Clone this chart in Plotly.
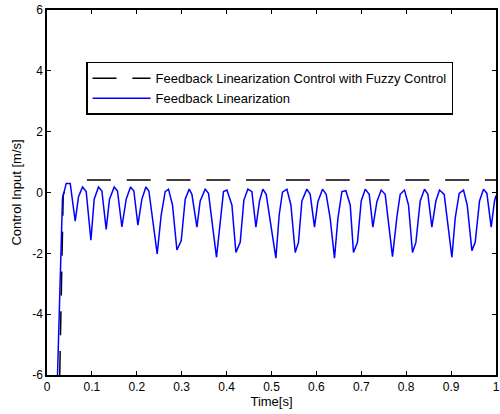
import plotly.graph_objects as go

# Feedback Linearization (blue) - vertices
t_fl = [0.0234, 0.0345, 0.0428, 0.0517, 0.0628, 0.0702, 0.0791, 0.0873, 0.0978, 0.1051,
        0.1147, 0.1223, 0.1318, 0.1392, 0.1497, 0.1570, 0.1668, 0.1764, 0.1860, 0.1935,
        0.2024, 0.2114, 0.2203, 0.2269, 0.2454, 0.2543, 0.2632, 0.2706, 0.2795, 0.2893,
        0.2989, 0.3078, 0.3167, 0.3227, 0.3339, 0.3412, 0.3523, 0.3597, 0.3775, 0.3931,
        0.4007, 0.4118, 0.4207, 0.4303, 0.4385, 0.4474, 0.4563, 0.4653, 0.4733, 0.4808,
        0.4882, 0.5098, 0.5171, 0.5245, 0.5343, 0.5432, 0.5528, 0.5601, 0.5677, 0.5788,
        0.5862, 0.5958, 0.6033, 0.6136, 0.6218, 0.6307, 0.6403, 0.6479, 0.6568, 0.6657,
        0.6753, 0.6826, 0.6915, 0.6998, 0.7087, 0.7176, 0.7258, 0.7347, 0.7443, 0.7532,
        0.7695, 0.7793, 0.7866, 0.7962, 0.8051, 0.8140, 0.8216, 0.8312, 0.8408, 0.8483,
        0.8572, 0.8661, 0.8742, 0.8846, 0.9018, 0.9091, 0.9180, 0.9276, 0.9359, 0.9463,
        0.9537, 0.9633, 0.9722, 0.9797, 0.9893, 0.9967, 1.0000]
u_fl = [-6.00, -0.19, 0.30, 0.30, -0.94, -0.14, 0.18, 0.03, -1.57, -0.22,
        0.18, 0.05, -1.21, -0.22, 0.18, 0.05, -1.13, -0.22, 0.18, 0.05,
        -1.07, -0.21, 0.18, 0.05, -2.02, -0.74, 0.03, 0.11, -0.41, -1.89,
        -1.59, -0.22, 0.11, -0.06, -1.14, -0.28, 0.11, -0.03, -2.13, 0.03,
        0.08, -0.41, -1.97, -1.64, -0.25, 0.11, 0.03, -1.14, -0.28, 0.11,
        -0.06, -2.16, -0.74, 0.01, 0.11, -0.41, -1.97, -1.64, -0.28, 0.11,
        -0.06, -1.14, -0.30, 0.11, -0.06, -0.85, -2.16, -0.85, 0.03, 0.06,
        -0.41, -1.97, -1.64, -0.28, 0.11, -0.06, -1.14, -0.30, 0.08, -0.06,
        -2.11, -0.80, -0.06, 0.08, -0.41, -1.97, -1.64, -0.28, 0.11, -0.06,
        -1.14, -0.28, 0.08, -0.06, -2.13, -0.85, -0.03, 0.08, -0.41, -1.91,
        -1.64, -0.28, 0.11, -0.03, -1.14, -0.28, -0.10]

# Feedback Linearization Control with Fuzzy Control (black dashed)
# initial rise, then the steady level
t_fz_rise = [0.0283, 0.0361, 0.0450, 0.0539]
u_fz_rise = [-6.00, -0.08, 0.31, 0.39]
t_fz_flat = [0.0889, 1.0000]
u_fz_flat = [0.41, 0.41]

x_ticks = [0, 0.1, 0.2, 0.3, 0.4, 0.5, 0.6, 0.7, 0.8, 0.9, 1]
y_ticks = [-6, -4, -2, 0, 2, 4, 6]

FONT = "Liberation Sans, Arial, sans-serif"
DASH = "24px,15.8px"

fig = go.Figure()
fig.add_trace(go.Scatter(
    x=t_fz_rise, y=u_fz_rise, mode="lines",
    name="Feedback Linearization Control with Fuzzy Control",
    legendgroup="fz",
    line=dict(color="black", width=1.5, dash=DASH),
))
fig.add_trace(go.Scatter(
    x=t_fz_flat, y=u_fz_flat, mode="lines",
    name="Feedback Linearization Control with Fuzzy Control",
    legendgroup="fz", showlegend=False,
    line=dict(color="black", width=1.5, dash=DASH),
))
fig.add_trace(go.Scatter(
    x=t_fl, y=u_fl, mode="lines",
    name="Feedback Linearization",
    line=dict(color="#0000ff", width=1.5),
))

axis_common = dict(
    showgrid=False, zeroline=False, showline=True, linecolor="black", linewidth=1.5,
    mirror="ticks", ticks="inside", ticklen=4, tickcolor="black", tickwidth=1,
    automargin=False,
    tickfont=dict(family=FONT, size=12, color="black"),
)

fig.update_layout(
    width=500, height=414,
    margin=dict(l=47, r=4, t=10, b=39),
    paper_bgcolor="white", plot_bgcolor="white",
    font=dict(family=FONT, size=12, color="black"),
    xaxis=dict(range=[0, 1], tickvals=x_ticks, ticktext=[str(v) for v in x_ticks],
               title=dict(text="Time[s]", standoff=3, font=dict(size=13)), **axis_common),
    yaxis=dict(range=[-6, 6], tickvals=y_ticks, ticktext=[str(v) for v in y_ticks],
               title=dict(text="Control Input [m/s]", standoff=8, font=dict(size=13)), **axis_common),
    legend=dict(x=0.087, y=0.858, xanchor="left", yanchor="top",
                bordercolor="black", borderwidth=1.5, bgcolor="white",
                itemwidth=58, font=dict(size=13), tracegroupgap=0),
    showlegend=True,
)

fig.write_html("out.html", config={"displayModeBar": False},
               post_script="document.body.style.margin='0px';")
